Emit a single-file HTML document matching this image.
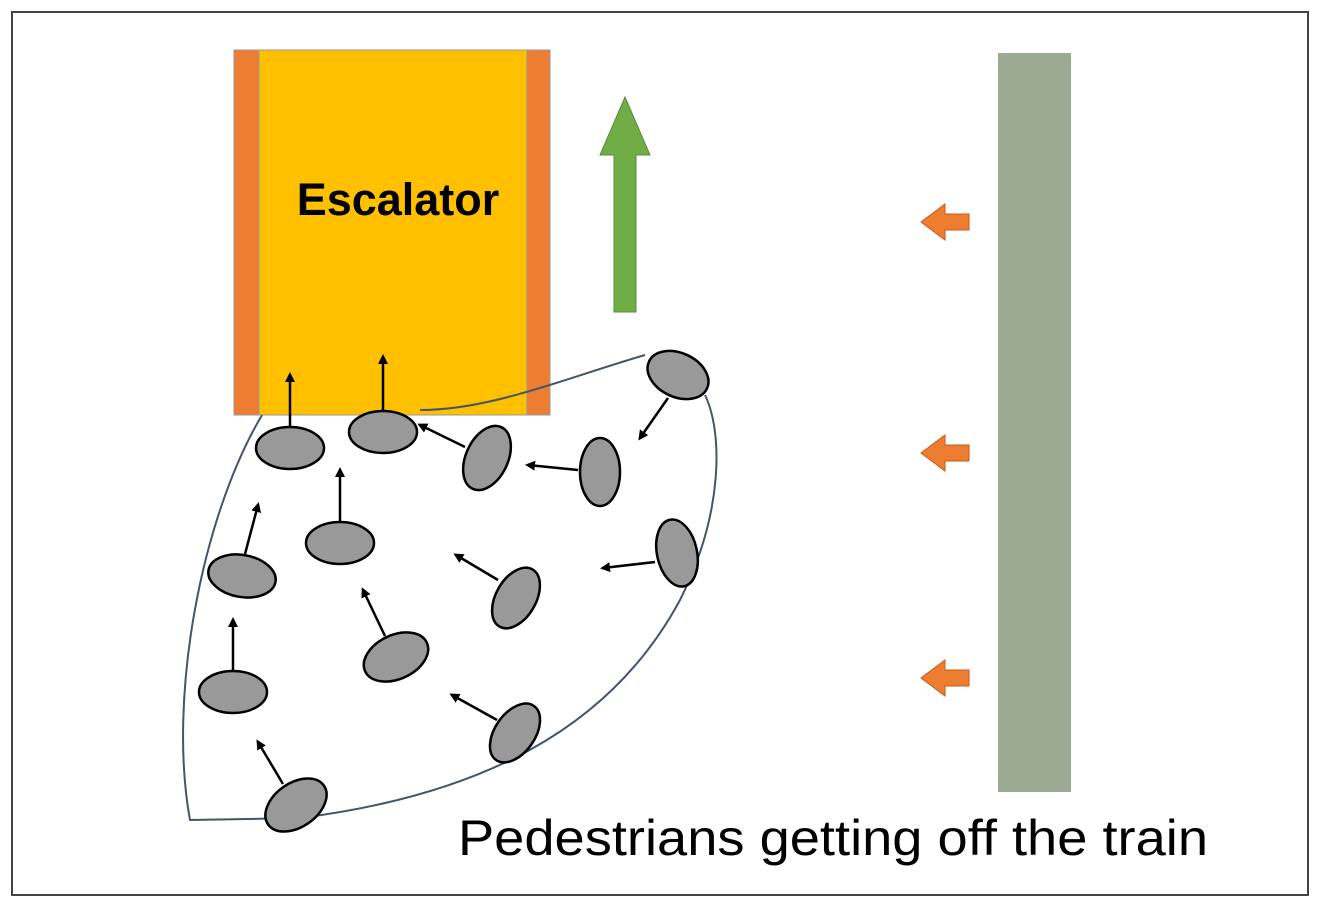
<!DOCTYPE html>
<html><head><style>html,body{margin:0;padding:0;background:#fff}svg{display:block}</style></head><body>
<svg width="1322" height="914" viewBox="0 0 1322 914" xmlns="http://www.w3.org/2000/svg">
<defs><marker id="a" markerWidth="10" markerHeight="10" refX="7" refY="5" orient="auto" markerUnits="userSpaceOnUse"><path d="M0,0 L10,5 L0,10 Z" fill="#000"/></marker></defs>
<rect x="12" y="12" width="1296" height="883" fill="#fff" stroke="#444" stroke-width="2"/>
<rect x="234" y="50" width="316" height="365" fill="#FFC000" stroke="#999" stroke-width="1"/>
<rect x="234" y="50" width="25" height="365" fill="#ED7D31" stroke="#999" stroke-width="1"/>
<rect x="527" y="50" width="23" height="365" fill="#ED7D31" stroke="#999" stroke-width="1"/>
<text x="398" y="215" text-anchor="middle" font-family="Liberation Sans, sans-serif" font-weight="bold" font-size="45">Escalator</text>
<path d="M614,312 L614,155 L600,155 L625,97 L650,155 L636,155 L636,312 Z" fill="#70AD47" stroke="#5a8a3a" stroke-width="1"/>
<rect x="998" y="53" width="73" height="739" fill="#9DAA93"/>
<g fill="#ED7D31" stroke="#c55a11" stroke-width="1">
<path d="M921,222 L945,204 L945,214 L969,214 L969,230 L945,230 L945,240 Z"/>
<path d="M921,453 L945,435 L945,445 L969,445 L969,461 L945,461 L945,471 Z"/>
<path d="M921,678 L945,660 L945,670 L969,670 L969,686 L945,686 L945,696 Z"/>
</g>
<path d="M262,415 C200,520 168,700 190,820 L300,818 C480,795 610,730 680,600 C725,510 722,430 705,395" fill="none" stroke="#44546A" stroke-width="2"/>
<path d="M420,410 C490,410 560,380 645,355" fill="none" stroke="#44546A" stroke-width="2"/>
<g fill="#999" stroke="#000" stroke-width="2.5">
<ellipse cx="290" cy="448" rx="34" ry="21"/>
<ellipse cx="383" cy="432" rx="34" ry="21"/>
<ellipse cx="678" cy="375" rx="32" ry="22" transform="rotate(25 678 375)"/>
<ellipse cx="487" cy="458" rx="34" ry="21" transform="rotate(-65 487 458)"/>
<ellipse cx="600" cy="472" rx="20" ry="34"/>
<ellipse cx="340" cy="543" rx="34" ry="21"/>
<ellipse cx="242" cy="576" rx="34" ry="21" transform="rotate(10 242 576)"/>
<ellipse cx="677" cy="553" rx="20" ry="34" transform="rotate(-12 677 553)"/>
<ellipse cx="516" cy="598" rx="20" ry="33" transform="rotate(30 516 598)"/>
<ellipse cx="396" cy="657" rx="34" ry="22" transform="rotate(-25 396 657)"/>
<ellipse cx="233" cy="692" rx="34" ry="21"/>
<ellipse cx="515" cy="733" rx="20" ry="33" transform="rotate(35 515 733)"/>
<ellipse cx="296" cy="805" rx="34" ry="22" transform="rotate(-35 296 805)"/>
</g>
<g stroke="#000" stroke-width="2.5" marker-end="url(#a)">
<line x1="290" y1="426" x2="290" y2="375"/>
<line x1="383" y1="410" x2="383" y2="357"/>
<line x1="668" y1="398" x2="640" y2="438"/>
<line x1="465" y1="447" x2="420" y2="425"/>
<line x1="578" y1="470" x2="528" y2="465"/>
<line x1="340" y1="521" x2="340" y2="470"/>
<line x1="245" y1="554" x2="258" y2="505"/>
<line x1="655" y1="562" x2="603" y2="568"/>
<line x1="498" y1="580" x2="456" y2="555"/>
<line x1="385" y1="636" x2="363" y2="590"/>
<line x1="233" y1="670" x2="233" y2="620"/>
<line x1="497" y1="720" x2="452" y2="695"/>
<line x1="283" y1="784" x2="258" y2="742"/>
</g>
<text x="458" y="855" font-family="Liberation Sans, sans-serif" font-size="50" textLength="750" lengthAdjust="spacingAndGlyphs">Pedestrians getting off the train</text>
</svg>
</body></html>
